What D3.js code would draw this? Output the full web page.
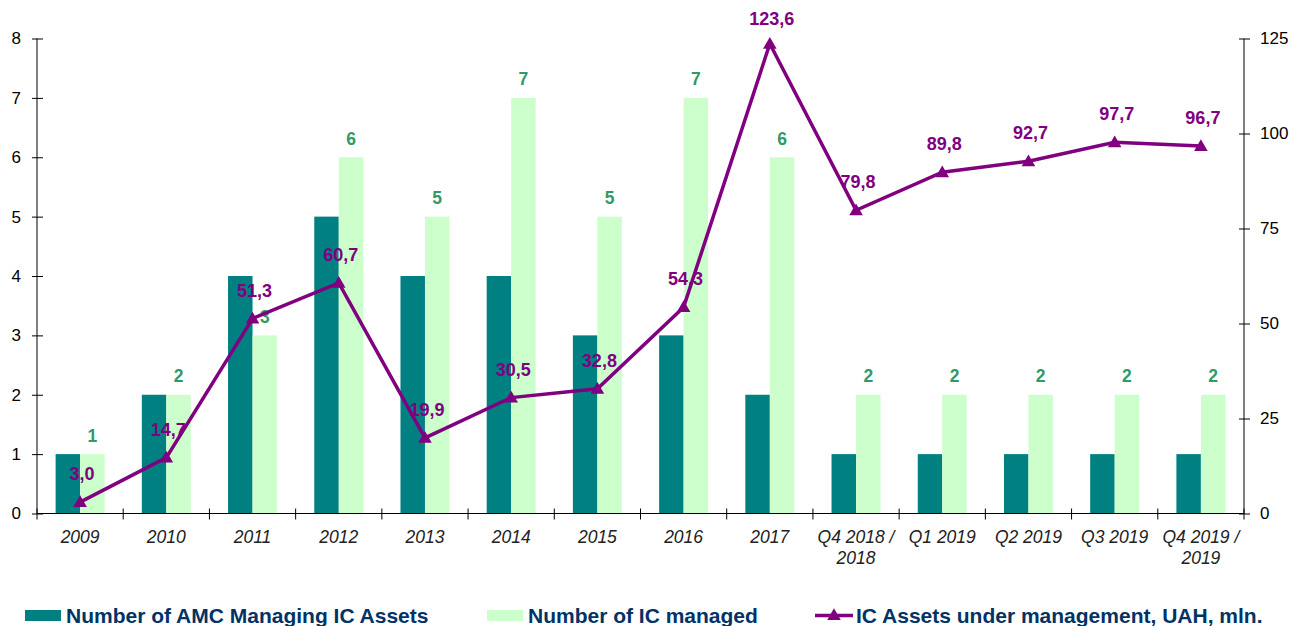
<!DOCTYPE html>
<html><head><meta charset="utf-8">
<script src="https://cdn.jsdelivr.net/npm/d3@7/dist/d3.min.js"></script>
<style>body{margin:0;background:#fff}svg{display:block}</style>
</head><body><svg id="c" width="1290" height="626"></svg>
<script>
const categories = ["2009","2010","2011","2012","2013","2014","2015","2016","2017","Q4 2018 / 2018","Q1 2019","Q2 2019","Q3 2019","Q4 2019 / 2019"];
const amcCount = [1,2,4,5,4,4,3,3,2,1,1,1,1,1];
const icCount = [1,2,3,6,5,7,5,7,6,2,2,2,2,2];
const assets = [3.0,14.7,51.3,60.7,19.9,30.5,32.8,54.3,123.6,79.8,89.8,92.7,97.7,96.7];
const leftTicks = [0,1,2,3,4,5,6,7,8];
const rightTicks = [0,25,50,75,100,125];
const seriesNames = ["Number of AMC Managing IC Assets","Number of IC managed","IC Assets under management, UAH, mln."];

const FONT = "'Liberation Sans', Arial, sans-serif";
const svg = d3.select("#c");
const L = 37, R = 1244, T = 38.5, B = 513.5;
const x = d3.scaleBand().domain(categories).range([L, R]).padding(0);
const sub = d3.scaleBand().domain(["amc","ic"]).range([0, x.bandwidth()]).paddingInner(0).paddingOuter(0.76);
const yL = d3.scaleLinear().domain([0,8]).range([B, T]);
const yR = d3.scaleLinear().domain([0,125]).range([B, T]);
const fmt = v => v.toFixed(1).replace(".", ",");

// bars
const g = svg.append("g");
g.selectAll("rect.amc").data(categories).join("rect")
  .attr("x", (d) => x(d) + sub("amc")).attr("width", sub.bandwidth())
  .attr("y", (d,i) => yL(amcCount[i])).attr("height", (d,i) => B - yL(amcCount[i]))
  .attr("fill", "#008080");
g.selectAll("rect.ic").data(categories).join("rect")
  .attr("x", (d) => x(d) + sub("ic")).attr("width", sub.bandwidth())
  .attr("y", (d,i) => yL(icCount[i])).attr("height", (d,i) => B - yL(icCount[i]))
  .attr("fill", "#ccffcc");
g.selectAll("text.icl").data(categories).join("text")
  .attr("x", d => x(d) + sub("ic") + sub.bandwidth()/2)
  .attr("y", (d,i) => yL(icCount[i]) - 12.5)
  .attr("text-anchor","middle").attr("font-family",FONT).attr("font-size",17.5).attr("font-weight","bold")
  .attr("fill","#339966").text((d,i)=>icCount[i]);

// axes
const axL = svg.append("g").attr("transform",`translate(${L},0)`)
  .call(d3.axisLeft(yL).tickValues(leftTicks).tickSize(5).tickPadding(11).tickFormat(d3.format("d")));
const axR = svg.append("g").attr("transform",`translate(${R},0)`)
  .call(d3.axisRight(yR).tickValues(rightTicks).tickSize(6).tickPadding(10).tickFormat(d3.format("d")));
[axL, axR].forEach(a => {
  a.select(".domain").attr("stroke","#000").attr("d", `M0,${T}V${B}`);
  a.selectAll(".tick line").attr("stroke","#000");
  a.selectAll("text").attr("font-family",FONT).attr("font-size",17).attr("fill","#000");
});
axL.selectAll(".tick line").attr("x1",6);
axR.selectAll(".tick line").attr("x1",-5);

// bottom axis
const axB = svg.append("g");
axB.append("line").attr("x1",L).attr("x2",R).attr("y1",B).attr("y2",B).attr("stroke","#000");
const bounds = categories.map(d => x(d)).concat([R]);
axB.selectAll("line.t").data(bounds).join("line")
  .attr("x1",d=>d).attr("x2",d=>d).attr("y1",B-5).attr("y2",B+6).attr("stroke","#000");
const lbl = axB.selectAll("text.xl").data(categories).join("text")
  .attr("x", d => x(d) + x.bandwidth()/2).attr("y", 542.5)
  .attr("text-anchor","middle").attr("font-family",FONT).attr("font-size",17.5).attr("font-style","italic").attr("fill","#222");
lbl.each(function(d){
  const parts = d.includes(" / ") ? [d.split(" / ")[0] + " /", d.split(" / ")[1]] : [d];
  const t = d3.select(this);
  parts.forEach((p,k) => t.append("tspan").attr("x", x(d) + x.bandwidth()/2).attr("dy", k ? 21 : 0).text(p));
});

// line
const line = d3.line().x((d,i) => x(categories[i]) + x.bandwidth()/2).y(d => yR(d));
svg.append("path").datum(assets).attr("d", line).attr("fill","none").attr("stroke","#800080").attr("stroke-width",3.5).attr("stroke-linejoin","miter");
const tri = d3.symbol().type(d3.symbolTriangle).size(80);
svg.selectAll("path.m").data(assets).join("path")
  .attr("d", tri).attr("transform",(d,i)=>`translate(${x(categories[i]) + x.bandwidth()/2},${yR(d)+1})`)
  .attr("fill","#800080");
svg.selectAll("text.al").data(assets).join("text")
  .attr("x",(d,i)=>x(categories[i]) + x.bandwidth()/2 + 2).attr("y", d => Math.max(25, yR(d) - 22))
  .attr("text-anchor","middle").attr("font-family",FONT).attr("font-size",18).attr("font-weight","bold")
  .attr("fill","#800080").text(d=>fmt(d));

// legend
const lg = svg.append("g").attr("font-family",FONT).attr("font-size",21).attr("font-weight","bold").attr("fill","#003366");
lg.append("rect").attr("x",25).attr("y",610).attr("width",36).attr("height",11).attr("fill","#008080");
lg.append("text").attr("x",66).attr("y",623).text(seriesNames[0]);
lg.append("rect").attr("x",487).attr("y",610).attr("width",36).attr("height",11).attr("fill","#ccffcc");
lg.append("text").attr("x",528).attr("y",623).text(seriesNames[1]);
lg.append("line").attr("x1",815).attr("x2",853).attr("y1",615.5).attr("y2",615.5).attr("stroke","#800080").attr("stroke-width",3.5);
lg.append("path").attr("d",tri).attr("transform","translate(834,616)").attr("fill","#800080");
lg.append("text").attr("x",856).attr("y",623).text(seriesNames[2]);
</script></body></html>
